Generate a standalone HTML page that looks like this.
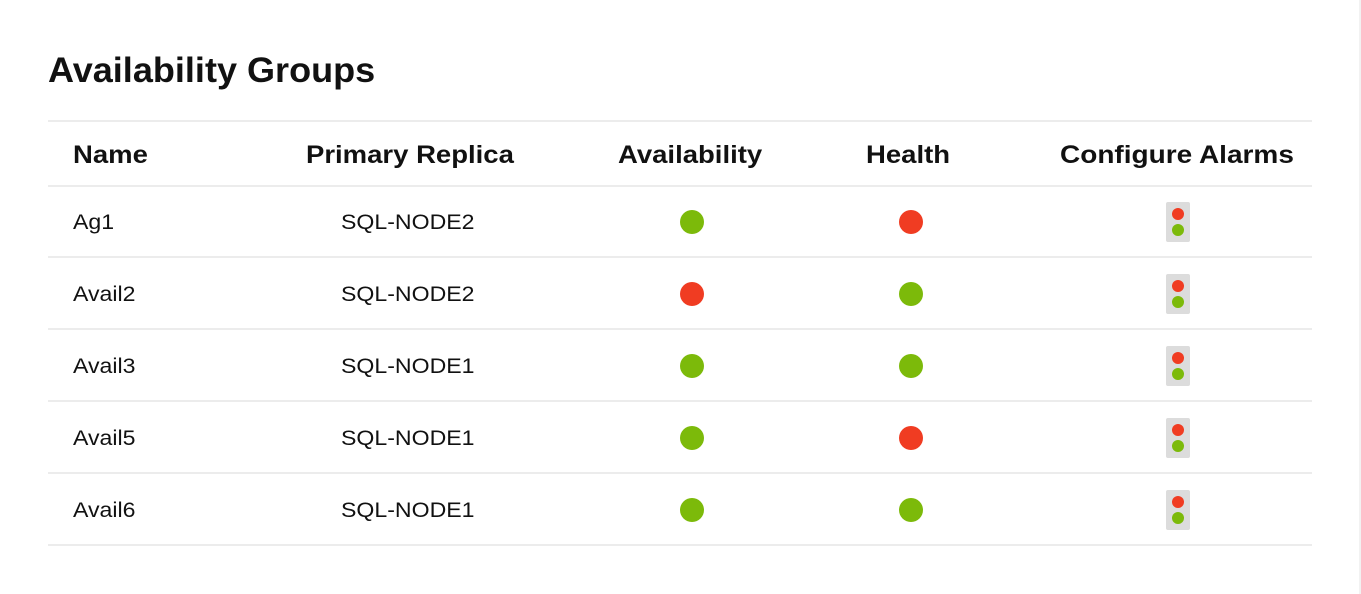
<!DOCTYPE html>
<html><head><style>
body{margin:0;width:1361px;height:594px;background:#fff;font-family:"Liberation Sans",sans-serif;color:#111;position:relative;overflow:hidden}
.t{position:absolute;white-space:nowrap;transform-origin:left center;transform:scaleX(1.1)}
.h{font-size:25px;font-weight:bold;top:141px;color:#111}
.c{font-size:21px;color:#111}
.line{position:absolute;left:48px;width:1264px;height:2px;background:#ececec}
.dot{position:absolute;width:24px;height:24px;border-radius:50%}
.g{background:#7cba0a}.r{background:#f03c22}
.tl{position:absolute;left:1166px;width:24px;height:40px;background:#dcdcdc;border-radius:2px}
.tl i{position:absolute;left:6px;width:12px;height:12px;border-radius:50%}
</style></head><body>
<div style="position:absolute;left:1359px;top:0;width:2px;height:594px;background:#f2f2f2"></div>
<div class="t" style="left:48px;top:51px;font-size:35px;font-weight:bold;transform:scaleX(1.03)">Availability Groups</div>
<div class="line" style="top:120px"></div>
<div class="t h" style="left:73px">Name</div>
<div class="t h" style="left:306px">Primary Replica</div>
<div class="t h" style="left:618px">Availability</div>
<div class="t h" style="left:866px">Health</div>
<div class="t h" style="left:1060px;transform:scaleX(1.12)">Configure Alarms</div>
<div class="line" style="top:185px"></div>

<div class="t c" style="left:73px;top:211px">Ag1</div>
<div class="t c" style="left:341px;top:211px">SQL-NODE2</div>
<div class="dot g" style="left:680px;top:210px"></div>
<div class="dot r" style="left:899px;top:210px"></div>
<div class="tl" style="top:202px"><i class="r" style="top:6px"></i><i class="g" style="top:22px"></i></div>
<div class="line" style="top:256px"></div>

<div class="t c" style="left:73px;top:283px">Avail2</div>
<div class="t c" style="left:341px;top:283px">SQL-NODE2</div>
<div class="dot r" style="left:680px;top:282px"></div>
<div class="dot g" style="left:899px;top:282px"></div>
<div class="tl" style="top:274px"><i class="r" style="top:6px"></i><i class="g" style="top:22px"></i></div>
<div class="line" style="top:328px"></div>

<div class="t c" style="left:73px;top:355px">Avail3</div>
<div class="t c" style="left:341px;top:355px">SQL-NODE1</div>
<div class="dot g" style="left:680px;top:354px"></div>
<div class="dot g" style="left:899px;top:354px"></div>
<div class="tl" style="top:346px"><i class="r" style="top:6px"></i><i class="g" style="top:22px"></i></div>
<div class="line" style="top:400px"></div>

<div class="t c" style="left:73px;top:427px">Avail5</div>
<div class="t c" style="left:341px;top:427px">SQL-NODE1</div>
<div class="dot g" style="left:680px;top:426px"></div>
<div class="dot r" style="left:899px;top:426px"></div>
<div class="tl" style="top:418px"><i class="r" style="top:6px"></i><i class="g" style="top:22px"></i></div>
<div class="line" style="top:472px"></div>

<div class="t c" style="left:73px;top:499px">Avail6</div>
<div class="t c" style="left:341px;top:499px">SQL-NODE1</div>
<div class="dot g" style="left:680px;top:498px"></div>
<div class="dot g" style="left:899px;top:498px"></div>
<div class="tl" style="top:490px"><i class="r" style="top:6px"></i><i class="g" style="top:22px"></i></div>
<div class="line" style="top:544px"></div>
</body></html>
